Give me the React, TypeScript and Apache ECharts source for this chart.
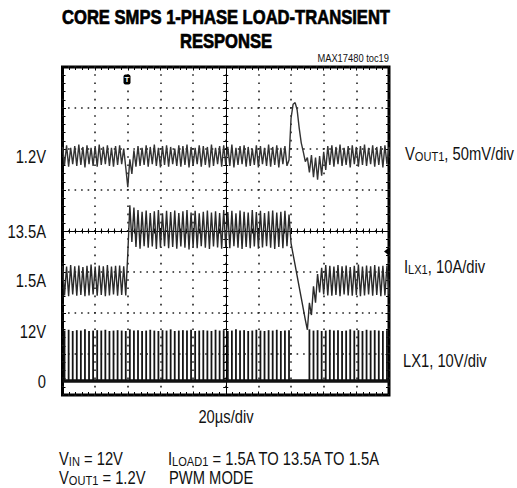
import React, { useEffect, useRef } from "react";
import * as echarts from "echarts";

// ---- scope time base ----
const sampleIntervalUs = 1.25; // one trace sample every 1.25 µs
const switchPeriodUs = 2.5; // one LX1 pulse per switching period
const timeSpanUs = [0, 200]; // 10 div x 20 µs/div

// ---- VOUT1 trace (V) ----
const voutV = [
  1.211, 1.189, 1.213, 1.187, 1.210, 1.190, 1.212, 1.188,
  1.214, 1.189, 1.211, 1.186, 1.213, 1.190, 1.210, 1.188,
  1.212, 1.187, 1.214, 1.189, 1.211, 1.190, 1.213, 1.188,
  1.210, 1.187, 1.212, 1.189, 1.213, 1.190, 1.209, 1.186,
  1.162,
  1.196, 1.178, 1.207, 1.187, 1.212, 1.188, 1.210, 1.189,
  1.213, 1.187, 1.211, 1.190, 1.214, 1.188, 1.210, 1.186,
  1.212, 1.189, 1.213, 1.187, 1.211, 1.190, 1.209, 1.188,
  1.213, 1.187, 1.212, 1.189, 1.214, 1.186, 1.211, 1.188,
  1.210, 1.190, 1.213, 1.187, 1.212, 1.189, 1.211, 1.186,
  1.214, 1.188, 1.210, 1.190, 1.212, 1.187, 1.213, 1.189,
  1.211, 1.188, 1.214, 1.186, 1.210, 1.189, 1.212, 1.190,
  1.213, 1.187, 1.211, 1.188, 1.209, 1.189, 1.213, 1.186,
  1.212, 1.190, 1.210, 1.188, 1.214, 1.187, 1.211, 1.189,
  1.213, 1.186, 1.210, 1.190, 1.212, 1.188,
  1.195, 1.246, 1.263, 1.265, 1.256, 1.234, 1.216, 1.205, 1.193, 1.198,
  1.180, 1.201, 1.174, 1.198, 1.171, 1.200, 1.176, 1.205, 1.183, 1.212,
  1.189, 1.213, 1.187, 1.211, 1.190, 1.214, 1.188, 1.210, 1.189, 1.212,
  1.186, 1.213, 1.190, 1.211, 1.187, 1.212, 1.189, 1.214, 1.188, 1.210,
  1.190, 1.213, 1.187, 1.211, 1.189, 1.212, 1.186, 1.213, 1.190, 1.211,
];

// ---- ILX1 inductor current trace (A) ----
const ilxA = [
  5.0, -2.2, 4.8, -2.4, 5.2, -2.0, 4.9, -2.3,
  5.1, -2.1, 4.7, -2.4, 5.0, -2.2, 5.3, -2.0,
  4.8, -2.3, 5.1, -2.1, 4.9, -2.4, 5.2, -2.2,
  4.8, -2.0, 5.0, -2.3, 5.1, -2.1, 4.9, -2.2,
  8.0,
  19.8, 10.8, 19.2, 9.6, 18.6, 9.2, 18.2, 9.8,
  18.5, 9.4, 17.9, 9.7, 18.3, 9.1, 18.6, 9.5,
  17.8, 9.8, 18.4, 9.3, 18.1, 9.6, 18.5, 9.2,
  17.9, 9.7, 18.3, 9.4, 18.6, 9.0, 18.0, 9.6,
  18.4, 9.3, 17.8, 9.8, 18.2, 9.4, 18.5, 9.1,
  18.0, 9.7, 18.3, 9.5, 17.9, 9.2, 18.6, 9.6,
  18.1, 9.3, 18.4, 9.8, 17.8, 9.4, 18.5, 9.1,
  18.2, 9.6, 18.0, 9.3, 18.6, 9.7, 18.1, 9.2,
  18.4, 9.5, 17.9, 9.8, 18.3, 9.4, 18.5, 9.1,
  18.0, 9.6, 18.2, 9.3, 18.4, 9.8,
  17.5, 10.5, 7.8, 5.2, 2.5, -0.2, -2.8, -5.5, -8.2, -10.6,
  -4.0, -7.0, 0.0, -4.0, 3.0, -1.5, 4.5, -2.0, 5.2, -2.2,
  5.0, -2.3, 4.8, -2.1, 5.2, -2.4, 4.9, -2.0, 5.1, -2.2,
  4.7, -2.3, 5.0, -2.1, 5.3, -2.4, 4.8, -2.2, 5.1, -2.0,
  4.9, -2.3, 5.2, -2.1, 4.8, -2.4, 5.0, -2.2, 5.1, -2.0,
];

// ---- LX1 switching node: pulse top (V) in each switching period ----
const lx1PulseV = [
  12.3, 12.5, 12.2, 12.4, 12.3, 12.6, 12.2, 12.3, 12.4, 12.3,
  12.5, 12.2, 12.3, 12.4, 12.3, 12.2, 12.6, 12.3, 12.4, 12.2,
  12.3, 12.5, 12.3, 12.2, 12.4, 12.3, 12.6, 12.2, 12.3, 12.4,
  12.3, 12.5, 12.2, 12.3, 12.4, 12.3, 12.2, 12.5, 12.3, 12.4,
  12.2, 12.3, 12.6, 12.3, 12.4, 12.2, 12.3, 12.5, 12.3, 12.2,
  12.4, 12.3, 12.5, 12.2, 12.3, 12.4, 0, 0, 0, 0,
  12.6, 12.3, 12.4, 12.2, 12.3, 12.5, 12.3, 12.4, 12.2, 12.3,
  12.6, 12.3, 12.4, 12.2, 12.5, 12.3, 12.4, 12.3, 12.2, 12.4,
];
const lx1LowV = [0, 0]; // low level at start and end of sweep

// ---- channel reference labels (left side) ----
const voutTickLabels = [1.2];
const ilxTickLabels = [13.5, 1.5];
const lx1TickLabels = [12, 0];

const FONT = "'Liberation Sans', Arial, sans-serif";
const INK = "#111";
const SX = 0.82; // horizontal squeeze to mimic a condensed face
const FS = 18;

export default function App() {
  const ref = useRef<HTMLDivElement>(null);

  useEffect(() => {
    if (!ref.current) return;
    const chart = echarts.init(ref.current, undefined, { renderer: "svg" });

    const tickStyle = { color: "#000", width: 1 };
    const minor = (len: number) => ({
      show: true,
      splitNumber: 5,
      length: len,
      lineStyle: tickStyle,
    });
    const gx = (o: any) => ({
      type: "value",
      gridIndex: 0,
      min: -5,
      max: 5,
      interval: 1,
      axisLabel: { show: false },
      splitLine: { show: false },
      ...o,
    });
    const gy = (o: any) => ({
      type: "value",
      gridIndex: 0,
      min: -4,
      max: 4,
      interval: 1,
      axisLabel: { show: false },
      splitLine: { show: false },
      ...o,
    });
    const chanAxis = (min: number, max: number) => ({
      type: "value",
      gridIndex: 0,
      min,
      max,
      show: false,
      position: "left",
      axisLine: { show: false, onZero: false },
    });

    const rich = {
      m: { fontSize: FS, fontFamily: FONT, lineHeight: 21, fill: INK },
      s: {
        fontSize: 13.5,
        fontFamily: FONT,
        lineHeight: 21,
        height: 13.5,
        verticalAlign: "bottom",
        fill: INK,
      },
    };
    const label = (x: number, y: number, text: string, align = "left") => ({
      type: "text",
      x,
      y,
      scaleX: SX,
      silent: true,
      style: {
        text,
        textAlign: align,
        textVerticalAlign: "middle",
        fontFamily: FONT,
        fontSize: FS,
        fill: INK,
        rich,
      },
    });
    const titleLine = (y: number, text: string) => ({
      type: "text",
      x: 226,
      y,
      scaleX: 0.83,
      silent: true,
      style: {
        text,
        textAlign: "center",
        textVerticalAlign: "middle",
        fontFamily: FONT,
        fontWeight: "bold",
        fontSize: 20,
        fill: "#000",
        stroke: "#000",
        lineWidth: 0.7,
      },
    });

    chart.setOption({
      animation: false,
      backgroundColor: "#fff",
      grid: {
        left: 62.5,
        top: 67,
        width: 326.5,
        height: 328,
        show: true,
        borderWidth: 3,
        borderColor: "#000",
        backgroundColor: "transparent",
        containLabel: false,
        outerBoundsMode: "none",
      },
      xAxis: [
        gx({
          position: "bottom",
          axisLine: { show: true, onZero: true, onZeroAxisIndex: 0, lineStyle: tickStyle },
          axisTick: { show: true, inside: true, length: 3, lineStyle: tickStyle },
          minorTick: minor(2.5),
          splitLine: {
            show: true,
            lineStyle: { color: "#222", width: 1.6, type: [1.6, 6.6], dashOffset: 0.8 },
          },
        }),
        gx({
          position: "bottom",
          axisLine: { show: true, onZero: true, onZeroAxisIndex: 0, lineStyle: tickStyle },
          axisTick: { show: true, inside: false, length: 3, lineStyle: tickStyle },
          minorTick: minor(2.5),
        }),
        gx({
          position: "top",
          axisLine: { show: false, onZero: false },
          axisTick: { show: true, inside: true, length: 3.5, lineStyle: tickStyle },
          minorTick: minor(3),
        }),
        gx({
          position: "bottom",
          axisLine: { show: false, onZero: false },
          axisTick: { show: true, inside: true, length: 3.5, lineStyle: tickStyle },
          minorTick: minor(3),
        }),
        {
          type: "value",
          gridIndex: 0,
          min: timeSpanUs[0],
          max: timeSpanUs[1],
          show: false,
          axisLine: { onZero: false },
        },
      ],
      yAxis: [
        gy({
          position: "left",
          axisLine: { show: true, onZero: true, onZeroAxisIndex: 0, lineStyle: tickStyle },
          axisTick: { show: true, inside: true, length: 3, lineStyle: tickStyle },
          minorTick: minor(2.5),
          splitLine: {
            show: true,
            lineStyle: { color: "#222", width: 1.6, type: [1.6, 4.93], dashOffset: 0.8 },
          },
        }),
        gy({
          position: "left",
          axisLine: { show: true, onZero: true, onZeroAxisIndex: 0, lineStyle: tickStyle },
          axisTick: { show: true, inside: false, length: 3, lineStyle: tickStyle },
          minorTick: minor(2.5),
        }),
        gy({
          position: "left",
          axisLine: { show: false, onZero: false },
          axisTick: { show: true, inside: true, length: 3.5, lineStyle: tickStyle },
          minorTick: minor(3),
        }),
        gy({
          position: "right",
          axisLine: { show: false, onZero: false },
          axisTick: { show: true, inside: true, length: 3.5, lineStyle: tickStyle },
          minorTick: minor(3),
        }),
        chanAxis(0.9085, 1.3085), // VOUT1: 50 mV/div
        chanAxis(-26.5, 53.5), // ILX1: 10 A/div
        chanAxis(-3.41, 76.59), // LX1: 10 V/div
      ],
      series: [
        {
          name: "VOUT1",
          type: "line",
          xAxisIndex: 4,
          yAxisIndex: 4,
          showSymbol: false,
          silent: true,
          lineStyle: { color: "#333", width: 1.4 },
          data: voutV.map((v, i) => [i * sampleIntervalUs, v]),
          z: 3,
        },
        {
          name: "ILX1",
          type: "line",
          xAxisIndex: 4,
          yAxisIndex: 5,
          showSymbol: false,
          silent: true,
          lineStyle: { color: "#2a2a2a", width: 1.4 },
          data: ilxA.map((v, i) => [i * sampleIntervalUs, v]),
          z: 3,
        },
        {
          name: "LX1 pulses",
          type: "bar",
          xAxisIndex: 4,
          yAxisIndex: 6,
          barWidth: 1.8,
          silent: true,
          itemStyle: { color: "#151515" },
          data: lx1PulseV.map((v, k) => [(k + 0.5) * switchPeriodUs, v]),
          z: 3,
        },
        {
          name: "LX1 low",
          type: "line",
          xAxisIndex: 4,
          yAxisIndex: 6,
          showSymbol: false,
          silent: true,
          lineStyle: { color: "#111", width: 3.5 },
          data: lx1LowV.map((v, i) => [timeSpanUs[i], v]),
          z: 3,
        },
      ],
    });

    // channel reference labels placed through the channel axes' own scales
    const labelX = (chart.convertToPixel({ xAxisIndex: 4 }, timeSpanUs[0]) as number) - 16.5;
    const tickText = (axisIndex: number, v: number, text: string) => ({
      type: "text",
      x: labelX,
      y: chart.convertToPixel({ yAxisIndex: axisIndex }, v) as number,
      scaleX: SX,
      silent: true,
      style: {
        text,
        textAlign: "right",
        textVerticalAlign: "middle",
        fontFamily: FONT,
        fontSize: FS,
        fill: INK,
      },
    });

    chart.setOption({
      graphic: [
        titleLine(17, "CORE SMPS 1-PHASE LOAD-TRANSIENT"),
        titleLine(40.5, "RESPONSE"),
        {
          type: "text",
          x: 389,
          y: 58.5,
          scaleX: 0.85,
          silent: true,
          style: {
            text: "MAX17480 toc19",
            textAlign: "right",
            textVerticalAlign: "middle",
            fontFamily: FONT,
            fontSize: 11,
            fill: INK,
          },
        },
        // trigger marker
        {
          type: "rect",
          silent: true,
          shape: { x: 123.5, y: 74.5, width: 7, height: 10, r: 2 },
          style: { fill: "#000" },
          z: 10,
        },
        {
          type: "text",
          x: 127,
          y: 79.5,
          silent: true,
          z: 11,
          style: {
            text: "T",
            textAlign: "center",
            textVerticalAlign: "middle",
            fontFamily: FONT,
            fontWeight: "bold",
            fontSize: 8,
            fill: "#fff",
          },
        },
        // trigger level marker at right edge
        {
          type: "polygon",
          silent: true,
          shape: { points: [[384, 251.5], [389, 247.5], [389, 255.5]] },
          style: { fill: "#000" },
          z: 10,
        },
        ...voutTickLabels.map((v) => tickText(4, v, `${v}V`)),
        ...ilxTickLabels.map((v) => tickText(5, v, `${v}A`)),
        ...lx1TickLabels.map((v) => tickText(6, v, v === 0 ? "0" : `${v}V`)),
        label(405, 153, "{m|V}{s|OUT1}{m|, 50mV/div}"),
        label(404, 266, "{m|I}{s|LX1}{m|, 10A/div}"),
        label(403, 360, "{m|LX1, 10V/div}"),
        label(226, 416, "{m|20µs/div}", "center"),
        label(59, 458, "{m|V}{s|IN}{m| = 12V}"),
        label(168, 458, "{m|I}{s|LOAD1}{m| = 1.5A TO 13.5A TO 1.5A}"),
        label(59, 477, "{m|V}{s|OUT1}{m| = 1.2V}"),
        label(169, 477, "{m|PWM MODE}"),
      ],
    });

    return () => chart.dispose();
  }, []);

  return (
    <div
      ref={ref}
      style={{ position: "absolute", left: 0, top: 0, width: 517, height: 488, background: "#fff" }}
    />
  );
}
